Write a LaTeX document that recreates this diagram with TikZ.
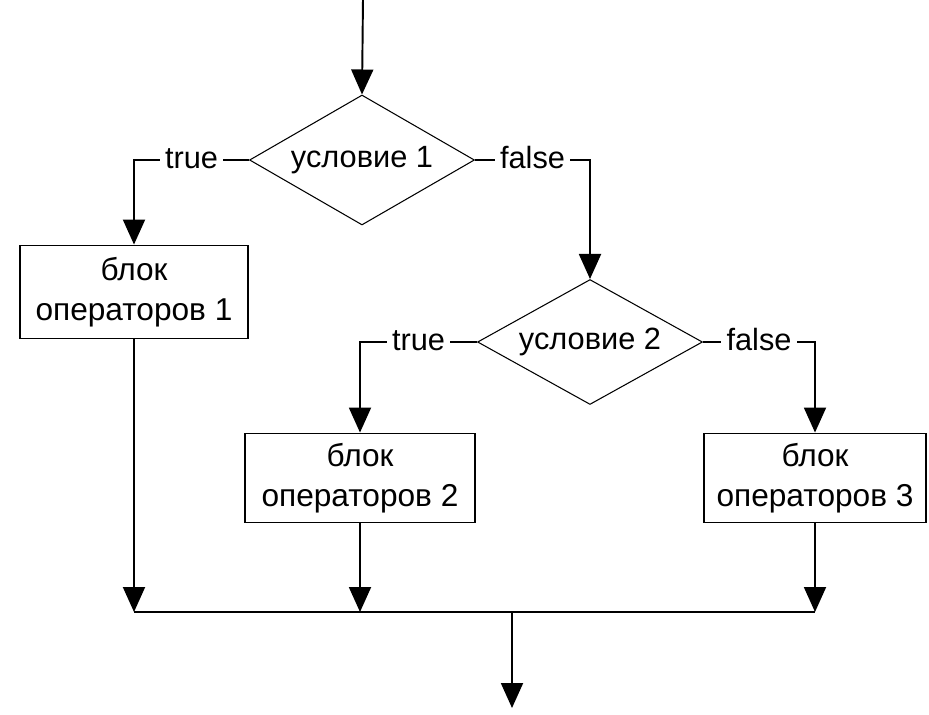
\documentclass[tikz,border=0pt]{standalone}
\usepackage{fontspec}
\setmainfont{Liberation Sans}
\usetikzlibrary{arrows.meta,shapes.geometric}

\tikzset{
  blok/.style={draw, line width=1.1pt, rectangle, align=center, inner sep=0pt,
    minimum width=4.5cm, minimum height=1.8cm, font=\fontsize{18}{23}\selectfont},
  uslovie/.style={draw, line width=0.6pt, diamond, aspect=1.76, inner sep=0pt,
    minimum width=4.5cm, minimum height=2.6cm, font=\fontsize{17.5}{21}\selectfont},
  metka/.style={fill=white, inner sep=3pt, anchor=mid, yshift=-2pt,
    font=\fontsize{17.5}{21}\selectfont},
  linia/.style={line width=1.1pt},
  strelka/.style={line width=1.1pt, -{Triangle[length=0.5cm, width=0.44cm]}}
}

\begin{document}
\begin{tikzpicture}[x=0.02cm, y=-0.02cm]
        \useasboundingbox (0,0) rectangle (929,714);

        \coordinate (start) at (363,-2);
        \node[uslovie] (usl1) at (362,160) {условие 1};
        \node[blok, minimum width=4.56cm, minimum height=1.86cm] (blok1) at (134,292) {блок\\операторов 1};
        \node[uslovie, minimum height=2.5cm] (usl2) at (590,342) {условие 2};
        \node[blok, minimum width=4.6cm, minimum height=1.78cm] (blok2) at (360,478) {блок\\операторов 2};
        \node[blok, minimum width=4.44cm, minimum height=1.78cm] (blok3) at (815,478) {блок\\операторов 3};
        \coordinate (sliyanie) at (512,612);
        \coordinate (konec) at (512,708);

        \draw[strelka] (start) -- (usl1.north);
        \draw[strelka] (usl1.west) -| node[metka, pos=0.25] {true} (blok1.north);
        \draw[strelka] (usl1.east) -| node[metka, pos=0.25] {false} (usl2.north);
        \draw[strelka] (usl2.west) -| node[metka, pos=0.25] {true} (blok2.north);
        \draw[strelka] (usl2.east) -| node[metka, pos=0.25] {false} (blok3.north);

        \draw[strelka] (blok1.south) -- (blok1.south |- sliyanie);
        \draw[strelka] (blok2.south) -- (blok2.south |- sliyanie);
        \draw[strelka] (blok3.south) -- (blok3.south |- sliyanie);
        \draw[linia] (blok1.south |- sliyanie) -- (blok3.south |- sliyanie);
        \draw[strelka] (sliyanie) -- (konec);
    \end{tikzpicture}
\end{document}
